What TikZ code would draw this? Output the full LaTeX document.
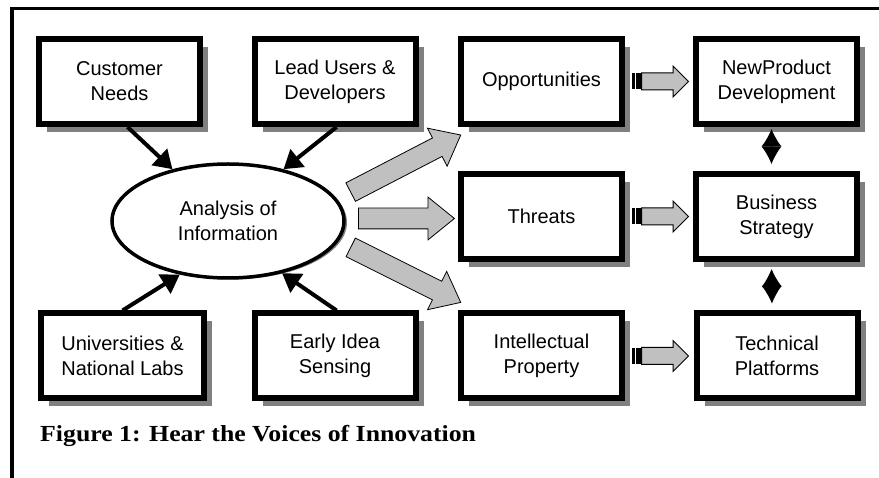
\documentclass[tikz,border=0pt]{standalone}
\usepackage{fontspec}
\setmainfont{Liberation Sans}
\newfontfamily\capfont{Liberation Serif}
\usetikzlibrary{positioning,shapes.geometric,shapes.arrows,shadows,arrows.meta}

\definecolor{arrowgray}{HTML}{C0C0C0}
\definecolor{shadowgray}{HTML}{808080}

\tikzset{srcbox/.style={draw,line width=6pt,fill=white,minimum width=161pt,minimum height=85pt,
           inner sep=0pt,align=center,font=\fontsize{20}{25}\selectfont,
           drop shadow={shadow xshift=8pt,shadow yshift=-8pt,fill=shadowgray,opacity=1}},
         infonode/.style={ellipse,draw,line width=3.5pt,fill=white,minimum width=232pt,minimum height=114pt,
           inner sep=0pt,align=center,font=\fontsize{20}{25}\selectfont,
           drop shadow={shadow xshift=3pt,shadow yshift=-1.5pt,fill=shadowgray,opacity=1}},
         feed/.style={line width=4pt,-{Triangle[length=18pt,width=22pt]}},
         bigarrow/.style={single arrow,draw,line width=0.8pt,fill=arrowgray,inner xsep=0pt,inner ysep=10pt,
           single arrow head extend=11pt,single arrow tip angle=78,
           single arrow head indent=0pt,minimum height=#1},
         smallarrow/.style={single arrow,draw,line width=1pt,fill=arrowgray,inner xsep=0pt,inner ysep=8pt,
           single arrow head extend=7pt,single arrow head indent=0pt,minimum height=47pt},
         tailblock/.style={fill=black,minimum width=9pt,minimum height=16pt,inner sep=0pt,
           path picture={\draw[white,line width=1.3pt]
             ([xshift=3.5pt]path picture bounding box.north west) -- ([xshift=3.5pt]path picture bounding box.south west);}},
         link/.style={line width=1pt,{Latex[length=17.5pt,width=20pt]}-{Latex[length=17.5pt,width=20pt]}}}

\begin{document}
\begin{tikzpicture}[x=1pt,y=-1pt]
\useasboundingbox (0,0) rectangle (879,478);
\draw[line width=3.5pt] (12,478) -- (12,8.5) -- (879,8.5);

\node[srcbox] (cust) at (119.5,81.5) {Customer\\Needs};
\node[srcbox] (lead) at (335,81.5) {Lead Users \&\\Developers};
\node[srcbox,minimum width=163pt] (uni) at (122.5,356) {Universities \&\\National Labs};
\node[srcbox] (early) at (335,356) {Early Idea\\Sensing};

\node[srcbox] (opp) at (541.5,81.5) {Opportunities};
\node[srcbox] (thr) at (541.5,216.5) {Threats};
\node[srcbox] (ip) at (541.5,356) {Intellectual\\Property};

\node[srcbox] (npd) at (776.5,81.5) {NewProduct\\Development};
\node[srcbox] (bus) at (776.5,216.5) {Business\\Strategy};
\node[srcbox] (tech) at (777,356) {Technical\\Platforms};

\node[infonode] (ana) at (228,221) {Analysis of\\Information};

\draw[feed] (cust.-80) -- (ana.137);
\draw[feed] (lead.-88) -- (ana.43);
\draw[feed] (uni.90) -- (ana.-132);
\draw[feed] (early.88) -- (ana.-44);

\node[bigarrow=124pt,rotate=27.4] (toopp) at (400,166.5) {};
\node[bigarrow=96pt] (tothr) at (400,218.5) {};
\node[bigarrow=123pt,rotate=-26.6] (toip) at (400,272) {};

\node[smallarrow,right=16pt of opp] (oppnpd) {};
\node[tailblock,left=0pt of oppnpd] (opptail) {};
\node[smallarrow,right=16pt of thr] (thrbus) {};
\node[tailblock,left=0pt of thrbus] (thrtail) {};
\node[smallarrow,right=16pt of ip] (iptech) {};
\node[tailblock,left=0pt of iptech] (iptail) {};

\draw[link,shorten <=2pt,shorten >=7pt] ([xshift=-5pt]npd.south) -- ([xshift=-5pt]bus.north);
\draw[link,shorten <=7pt,shorten >=7pt] ([xshift=-5pt]bus.south) -- ([xshift=-5pt]tech.north);

\node[anchor=base west,inner sep=0pt,xscale=1.12,font=\capfont\bfseries\fontsize{23}{28}\selectfont]
  (caption) at (40,442) {Figure 1: Hear the Voices of Innovation};
\end{tikzpicture}
\end{document}
